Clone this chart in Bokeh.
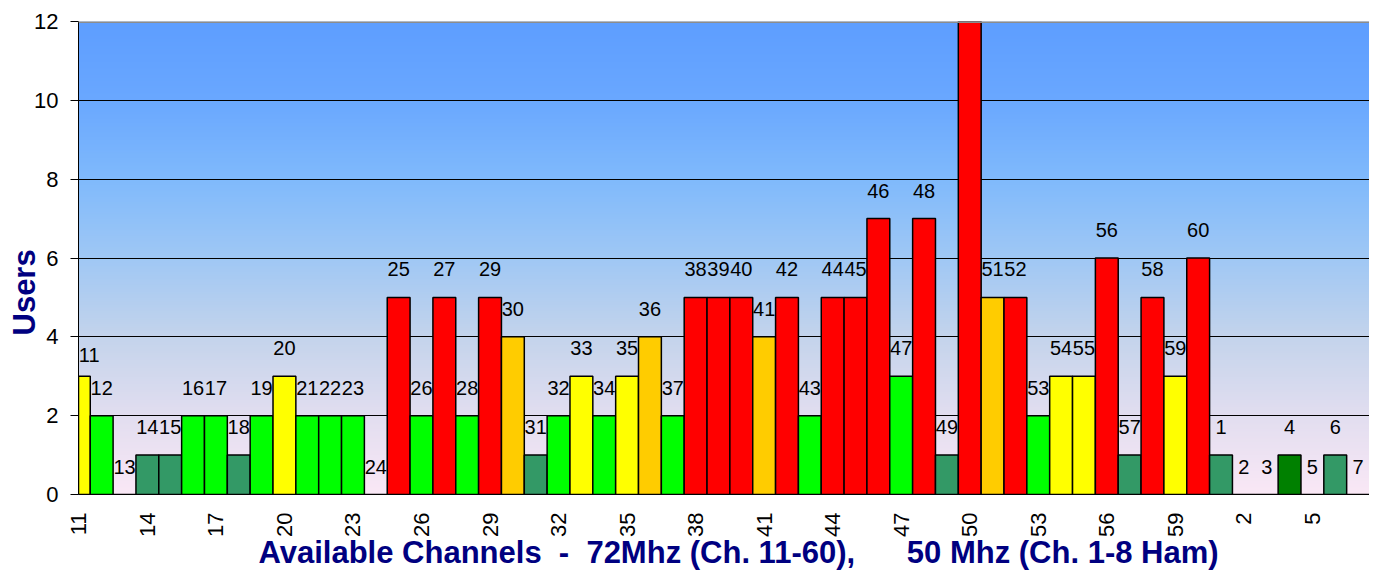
import math
import numpy as np
from bokeh.plotting import figure
from bokeh.models import ColumnDataSource, LabelSet, Label, FixedTicker, Range1d, Title, Span
from bokeh.core.properties import value
from bokeh.embed import file_html
from bokeh.resources import INLINE

# ---- data ----
channels = ["11", "12", "13", "14", "15", "16", "17", "18", "19", "20",
            "21", "22", "23", "24", "25", "26", "27", "28", "29", "30",
            "31", "32", "33", "34", "35", "36", "37", "38", "39", "40",
            "41", "42", "43", "44", "45", "46", "47", "48", "49", "50",
            "51", "52", "53", "54", "55", "56", "57", "58", "59", "60",
            "1", "2", "3", "4", "5", "6", "7", "8"]
users = [3, 2, 0, 1, 1, 2, 2, 1, 2, 3,
         2, 2, 2, 0, 5, 2, 5, 2, 5, 4,
         1, 2, 3, 2, 3, 4, 2, 5, 5, 5,
         4, 5, 2, 5, 5, 7, 3, 7, 1, 12,
         5, 5, 2, 3, 3, 6, 1, 5, 3, 6,
         1, 0, 0, 1, 0, 1, 0, 0]
Y, G, T, O, R, D = "#FFFF00", "#00FF00", "#339966", "#FFCC00", "#FF0000", "#008000"
bar_colors = [Y, G, G, T, T, G, G, T, G, Y,
              G, G, G, G, R, G, R, G, R, O,
              T, G, Y, G, Y, O, G, R, R, R,
              O, R, G, R, R, R, G, R, T, R,
              O, R, G, Y, Y, R, T, R, Y, R,
              T, T, T, D, T, T, T, T]
y_ticks = [0, 2, 4, 6, 8, 10, 12]
x_title = "Available Channels\u00a0 -\u00a0 72Mhz (Ch. 11-60),\u00a0\u00a0\u00a0\u00a0\u00a0 50 Mhz (Ch. 1-8 Ham)"
y_title = "Users"

# gradient stops for plot background (value -> rgb)
grad_stops = [(0, (250, 232, 246)), (2, (226, 222, 240)), (4, (196, 212, 236)),
              (6, (160, 200, 245)), (8, (128, 186, 252)), (10, (106, 168, 255)),
              (12, (94, 158, 255))]

Y_MAX = 12
X0, X1 = -0.015, 56.5
idx = list(range(len(channels)))
src = ColumnDataSource(dict(x=idx, top=users, color=bar_colors))
# data labels (the first one is drawn separately, left-aligned, so it is not cut by the frame edge;
# labels that fall outside the visible value/category range are not shown in the chart)
lab_idx = [i for i in idx[1:] if users[i] < Y_MAX and i < X1]
lab_src = ColumnDataSource(dict(x=lab_idx, top=[users[i] for i in lab_idx],
                                label=[channels[i] for i in lab_idx]))

p = figure(width=1369, height=570, output_backend="svg", toolbar_location=None,
           x_range=Range1d(X0, X1), y_range=Range1d(0, Y_MAX),
           min_border_left=78, min_border_right=0, min_border_top=21, min_border_bottom=76)
p.background_fill_color = "white"
p.border_fill_color = "white"
p.outline_line_color = None

# gradient background as image
H = 400
img = np.zeros((H, 1, 4), dtype=np.uint8)
sv = [s[0] for s in grad_stops]
for c in range(3):
    cv = [s[1][c] for s in grad_stops]
    img[:, 0, c] = np.interp(np.linspace(0, Y_MAX, H), sv, cv).astype(np.uint8)
img[:, :, 3] = 255
p.image_rgba(image=[img.view(dtype=np.uint32).reshape(H, 1)], x=X0, y=0, dw=X1 - X0, dh=Y_MAX, level="image")

p.vbar(x="x", top="top", bottom=0, width=1.0, fill_color="color",
       line_color="black", line_width=1.5, source=src)

# gray top border of the plot area
p.add_layout(Span(location=Y_MAX, dimension="width", line_color="#8c8c8c", line_width=3))

labels = LabelSet(x="x", y="top", text="label", source=lab_src, text_align="center",
                  text_baseline="alphabetic", y_offset=21, text_font=value("Liberation Sans"),
                  text_font_size=value("20px"), text_color="black")
p.add_layout(labels)
p.add_layout(Label(x=idx[0], y=users[0], text=channels[0], y_offset=21, x_offset=0,
                   text_align="left", text_baseline="alphabetic", text_font="Liberation Sans",
                   text_font_size="20px", text_color="black"))

# axes
p.xgrid.visible = False
p.ygrid.ticker = FixedTicker(ticks=[2, 4, 6, 8, 10])
p.ygrid.grid_line_color = "black"
p.ygrid.grid_line_width = 1
p.ygrid.level = "underlay"

p.yaxis.ticker = FixedTicker(ticks=y_ticks)
p.yaxis.major_tick_out = 8
p.yaxis.major_tick_in = 0
p.yaxis.minor_tick_line_color = None
p.yaxis.axis_line_color = "black"
p.yaxis.major_tick_line_color = "black"
p.yaxis.major_label_text_font = "Liberation Sans"
p.yaxis.major_label_text_font_size = "22px"
p.yaxis.major_label_text_color = "black"
p.yaxis.major_label_standoff = 12

xt = list(range(0, len(channels), 3))
p.xaxis.ticker = FixedTicker(ticks=xt)
p.xaxis.major_label_overrides = {i: channels[i] for i in xt}
p.xaxis.major_label_orientation = math.pi / 2
p.xaxis.major_tick_out = 0
p.xaxis.major_tick_in = 0
p.xaxis.minor_tick_line_color = None
p.xaxis.axis_line_color = "black"
p.xaxis.major_label_text_font = "Liberation Sans"
p.xaxis.major_label_text_font_size = "22px"
p.xaxis.major_label_text_color = "black"
p.xaxis.major_label_standoff = 18

p.add_layout(Title(text=x_title, align="left", offset=180, vertical_align="top", standoff=-9,
                   text_font="Liberation Sans", text_font_style="bold",
                   text_font_size="31px", text_color="#000080"), "below")
p.add_layout(Title(text=y_title, align="left", offset=159, vertical_align="bottom", standoff=-21,
                   text_font="Liberation Sans", text_font_style="bold",
                   text_font_size="31px", text_color="#000080"), "left")

open("out.html", "w").write(file_html(p, INLINE))
